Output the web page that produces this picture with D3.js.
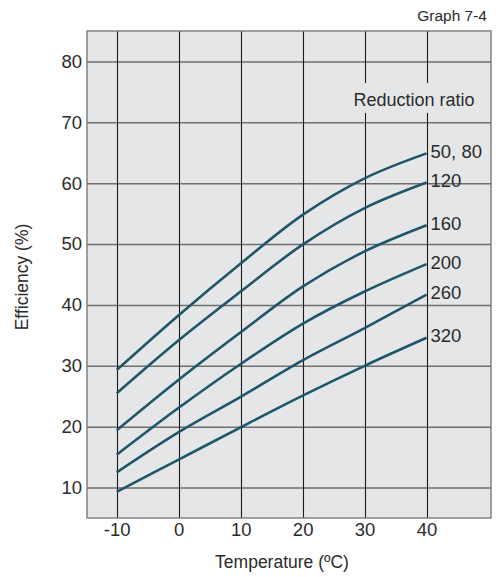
<!DOCTYPE html>
<html>
<head>
<meta charset="utf-8">
<script src="https://cdn.jsdelivr.net/npm/d3@7"></script>
<style>
  html, body { margin: 0; padding: 0; background: #fff; }
  svg { display: block; font-family: "Liberation Sans", Arial, Helvetica, sans-serif; }
</style>
</head>
<body>
<svg id="chart" width="499" height="577"></svg>
<script>
// Temperature points (°C) at which efficiency is read
const temperatures = [-10, 0, 10, 20, 30, 40];

// Reduction ratio labels for each curve
const ratios = ["50, 80", "120", "160", "200", "260", "320"];

// Efficiency (%) per reduction ratio, one value per temperature
const eff_50_80 = [29.3, 38.3, 46.8, 54.8, 60.8, 64.9];
const eff_120   = [25.5, 34.2, 42.2, 49.9, 55.9, 60.1];
const eff_160   = [19.4, 27.7, 35.5, 43.0, 48.8, 53.1];
const eff_200   = [15.4, 23.1, 30.3, 36.9, 42.2, 46.7];
const eff_260   = [12.5, 19.1, 24.9, 30.9, 36.2, 41.7];
const eff_320   = [ 9.3, 14.6, 19.9, 25.1, 30.0, 34.6];
const seriesValues = [eff_50_80, eff_120, eff_160, eff_200, eff_260, eff_320];

// Axis ticks
const xTicks = [-10, 0, 10, 20, 30, 40];
const yTicks = [10, 20, 30, 40, 50, 60, 70, 80];

const svg = d3.select("#chart");
const plotLeft = 87, plotRight = 491, plotTop = 31, plotBottom = 518;
const textColor = "#2b2b2b";
const tickFont = 18.5;

const x = d3.scaleLinear().domain([-14.8, 50.4]).range([plotLeft, plotRight]);
const y = d3.scaleLinear().domain([5, 85]).range([plotBottom, plotTop]);

// Plot background
svg.append("rect")
  .attr("x", plotLeft).attr("y", plotTop)
  .attr("width", plotRight - plotLeft).attr("height", plotBottom - plotTop)
  .attr("fill", "#e5e6e8");

// Horizontal grid lines (grey) with the value labels on the left
const yAxis = d3.axisLeft(y).tickValues(yTicks).tickSize(-(plotRight - plotLeft)).tickPadding(5).tickFormat(d => String(d));
const gy = svg.append("g").attr("transform", `translate(${plotLeft},0)`).call(yAxis);
gy.select(".domain").remove();
gy.selectAll(".tick line").attr("stroke", "#6e6e6e").attr("stroke-width", 1.6);
gy.selectAll(".tick text").attr("fill", textColor).attr("font-size", tickFont)
  .attr("font-family", "\"Liberation Sans\", Arial, sans-serif");

// Vertical grid lines (black); the 30 and 40 lines break around the legend title
const gapTop = 83, gapBottom = 113;
xTicks.forEach(t => {
  const xx = Math.round(x(t)) + 0.5;
  const segs = t >= 30 ? [[plotTop, gapTop], [gapBottom, plotBottom]] : [[plotTop, plotBottom]];
  segs.forEach(([a, b]) => {
    svg.append("line").attr("x1", xx).attr("x2", xx).attr("y1", a).attr("y2", b)
      .attr("stroke", "#1a1a1a").attr("stroke-width", 1.1);
  });
});

// X axis tick labels
const xAxis = d3.axisBottom(x).tickValues(xTicks).tickSize(0).tickPadding(5).tickFormat(d => String(d));
const gx = svg.append("g").attr("transform", `translate(0,${plotBottom})`).call(xAxis);
gx.select(".domain").remove();
gx.selectAll(".tick text").attr("fill", textColor).attr("font-size", tickFont)
  .attr("font-family", "\"Liberation Sans\", Arial, sans-serif");

// Plot frame
svg.append("rect")
  .attr("x", plotLeft).attr("y", plotTop)
  .attr("width", plotRight - plotLeft).attr("height", plotBottom - plotTop)
  .attr("fill", "none").attr("stroke", "#7a7a7a").attr("stroke-width", 1.4);

// Efficiency curves
const line = d3.line()
  .x((d, i) => x(temperatures[i]))
  .y(d => y(d))
  .curve(d3.curveCatmullRom);

svg.append("g").selectAll("path")
  .data(seriesValues)
  .join("path")
  .attr("d", d => line(d))
  .attr("fill", "none")
  .attr("stroke", "#1f5669")
  .attr("stroke-width", 2.6)
  .attr("stroke-linecap", "butt");

// Curve labels at the right end
svg.append("g").selectAll("text")
  .data(ratios)
  .join("text")
  .attr("x", x(40) + 4)
  .attr("y", (d, i) => y(seriesValues[i][seriesValues[i].length - 1]) + 4.5)
  .attr("font-size", tickFont)
  .attr("fill", textColor)
  .text(d => d);

// Legend title
svg.append("text")
  .attr("x", 414).attr("y", 105.5)
  .attr("text-anchor", "middle")
  .attr("font-size", 18)
  .attr("fill", textColor)
  .text("Reduction ratio");

// Graph caption
svg.append("text")
  .attr("x", 487).attr("y", 20.5)
  .attr("text-anchor", "end")
  .attr("font-size", 15.5)
  .attr("fill", textColor)
  .text("Graph 7-4");

// Axis titles
svg.append("text")
  .attr("x", 282).attr("y", 568)
  .attr("text-anchor", "middle")
  .attr("font-size", 17.5)
  .attr("fill", textColor)
  .text("Temperature (ºC)");

svg.append("text")
  .attr("transform", `translate(28,277) rotate(-90)`)
  .attr("text-anchor", "middle")
  .attr("font-size", 17.5)
  .attr("fill", textColor)
  .text("Efficiency (%)");
</script>
</body>
</html>
